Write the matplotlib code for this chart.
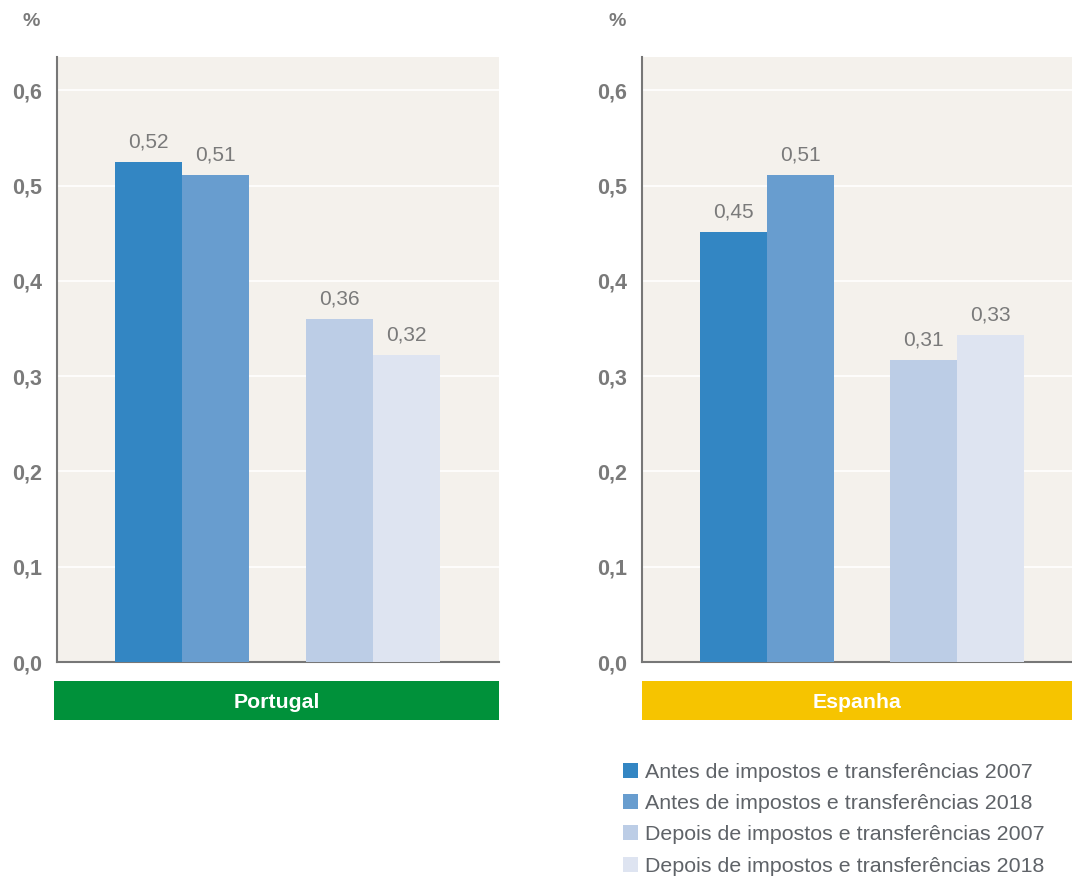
import matplotlib
matplotlib.use("Agg")
import matplotlib.pyplot as plt
from matplotlib.patches import Patch
import numpy as np

plt.rcParams['font.family'] = ['Liberation Sans', 'DejaVu Sans']

countries = ["Portugal", "Espanha"]
series = ["Antes de impostos e transferências 2007",
          "Antes de impostos e transferências 2018",
          "Depois de impostos e transferências 2007",
          "Depois de impostos e transferências 2018"]
portugal = [0.525, 0.511, 0.360, 0.322]
espanha = [0.451, 0.511, 0.317, 0.343]
portugal_labels = ["0,52", "0,51", "0,36", "0,32"]
espanha_labels = ["0,45", "0,51", "0,31", "0,33"]
yticks = [0.0, 0.1, 0.2, 0.3, 0.4, 0.5, 0.6]
ytick_labels = ["0,0", "0,1", "0,2", "0,3", "0,4", "0,5", "0,6"]

colors = ["#3386C3", "#689DCF", "#BCCDE6", "#DEE4F1"]
band_colors = ["#00913A", "#F6C400"]
bg = "#F4F1EC"
grey = "#7A7A7A"

W, H = 1072, 880
fig = plt.figure(figsize=(W / 100, H / 100), dpi=100)

def px_axes(x0, y0, x1, y1):
    return fig.add_axes([x0 / W, 1 - y1 / H, (x1 - x0) / W, (y1 - y0) / H])

panels = [
    dict(ax=(57, 57, 499, 662), band=(54, 681, 499, 720), centers=(182, 373), spacing=191,
         vals=portugal, labels=portugal_labels, pct=(31, 21)),
    dict(ax=(642, 57, 1072, 662), band=(642, 681, 1072, 720), centers=(767, 957), spacing=190,
         vals=espanha, labels=espanha_labels, pct=(617, 21)),
]

bw = 67
for i, p in enumerate(panels):
    x0, y0, x1, y1 = p["ax"]
    ax = px_axes(x0, y0, x1, y1)
    c0 = p["centers"][0]
    sp = p["spacing"]
    ax.set_xlim((x0 - c0) / sp, (x1 - c0) / sp)
    ax.set_ylim(0, 0.635)
    ax.set_facecolor(bg)
    w = bw / sp
    xs = [-w / 2, w / 2, 1 - w / 2, 1 + w / 2]
    ax.bar(xs, p["vals"], width=w, color=colors, zorder=3)
    for x, v, lab in zip(xs, p["vals"], p["labels"]):
        ax.annotate(lab, (x, v), xytext=(0, 7.5), textcoords="offset points",
                    ha="center", va="bottom", fontsize=15, color=grey)
    ax.set_yticks(yticks)
    ax.set_yticklabels(ytick_labels, fontsize=15.5, fontweight="bold", color=grey)
    ax.tick_params(axis="y", length=0, pad=11)
    ax.set_xticks([])
    ax.grid(axis="y", color="white", linewidth=1.2, zorder=1)
    for s in ["top", "right"]:
        ax.spines[s].set_visible(False)
    for s in ["left", "bottom"]:
        ax.spines[s].set_color("#777777")
        ax.spines[s].set_linewidth(1.5)
    # band
    bx0, by0, bx1, by1 = p["band"]
    bax = px_axes(bx0, by0, bx1, by1)
    bax.set_facecolor(band_colors[i])
    bax.set_xticks([]); bax.set_yticks([])
    for s in bax.spines.values():
        s.set_visible(False)
    bax.text(0.5, 0.45, countries[i], transform=bax.transAxes, ha="center", va="center",
             fontsize=15.3, fontweight="bold", color="white")
    fig.text(p["pct"][0] / W, 1 - p["pct"][1] / H, "%", ha="center", va="center",
             fontsize=14, fontweight="bold", color=grey)

handles = [Patch(facecolor=c, edgecolor="none") for c in colors]
fig.legend(handles, series, loc="upper left", bbox_to_anchor=(623 / W, 1 - 763 / H),
           frameon=False, fontsize=15.4, labelcolor="#5F6368", handlelength=0.7,
           handleheight=0.7, handletextpad=0.33, labelspacing=0.57, borderaxespad=0,
           borderpad=0)

fig.savefig("out.png", dpi=100)
